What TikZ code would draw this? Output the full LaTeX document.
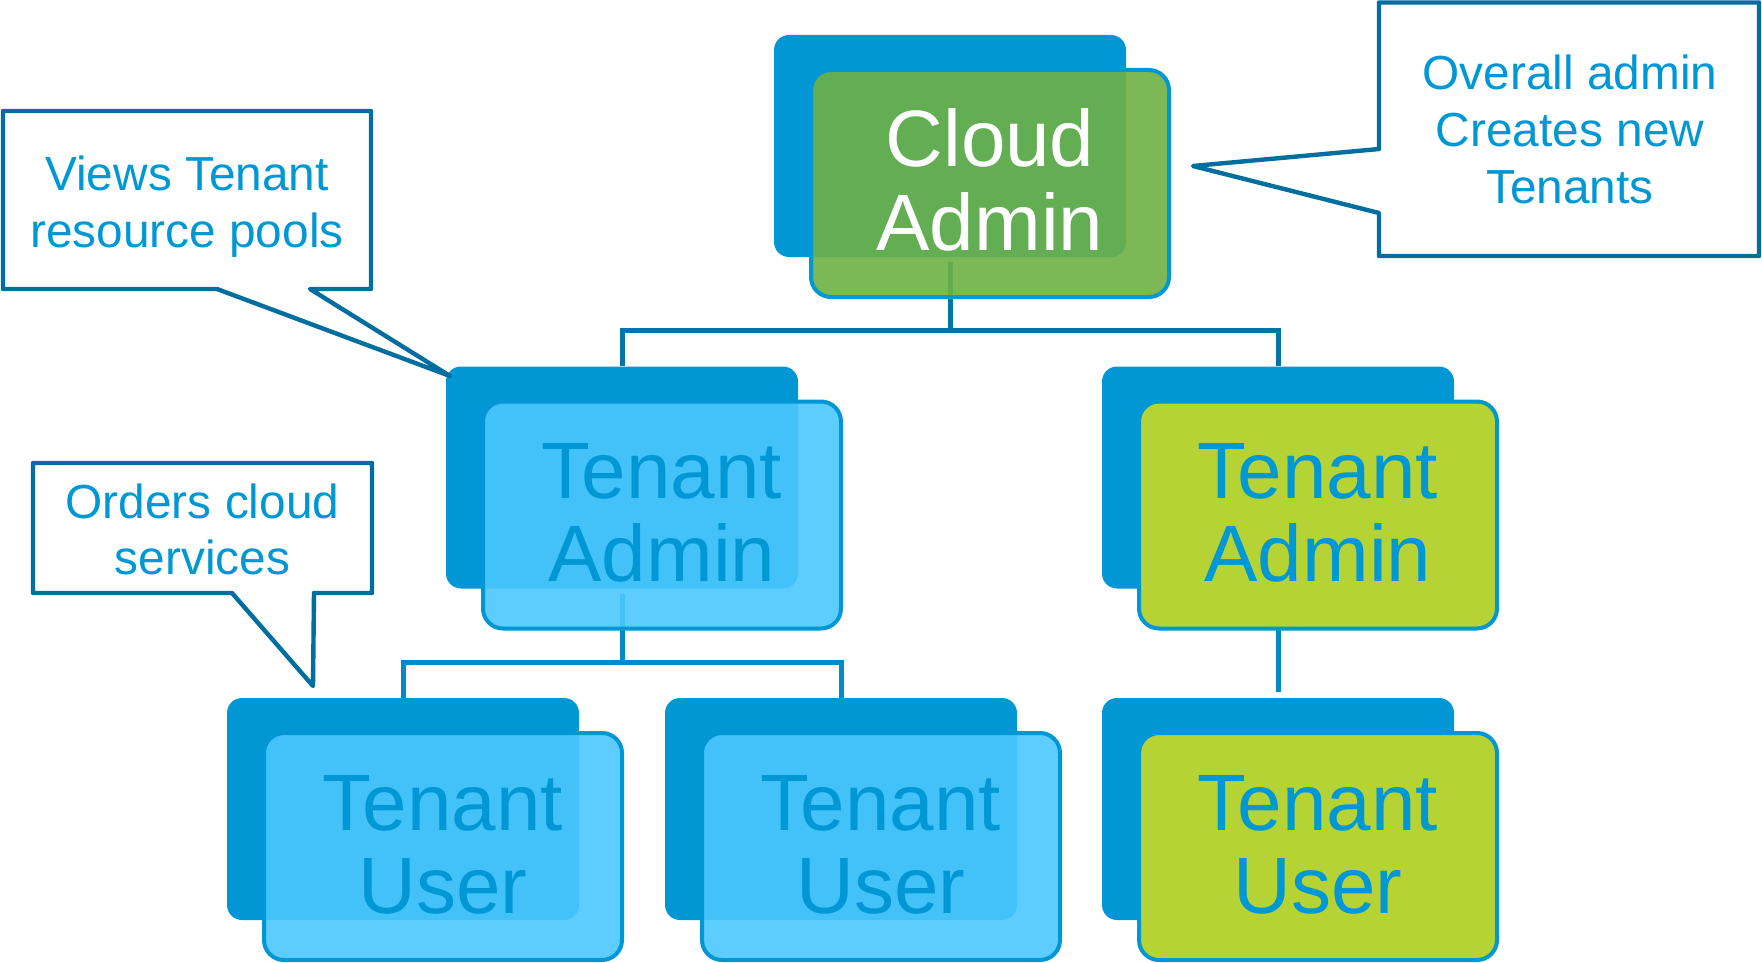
\documentclass[tikz,border=0pt]{standalone}
\usepackage{fontspec}
\setmainfont{Liberation Sans}
\usetikzlibrary{calc}
\definecolor{cBack}{RGB}{0,151,212}
\definecolor{cCloud}{RGB}{110,177,68}
\definecolor{cLight}{RGB}{75,199,255}
\definecolor{cLime}{RGB}{181,211,52}
\definecolor{cText}{RGB}{0,152,212}
\definecolor{cCall}{RGB}{0,110,158}
\definecolor{cConnA}{RGB}{0,118,168}
\definecolor{cConnB}{RGB}{0,138,198}
\tikzset{
  backbox/.style={rectangle, rounded corners=7.5pt, fill=cBack, draw=none,
    minimum width=176pt, minimum height=111pt, inner sep=0pt},
  frontbox/.style={rectangle, rounded corners=10pt, draw=cBack, line width=2pt,
    minimum width=179pt, minimum height=113.5pt, inner sep=0pt},
  cloudfront/.style={frontbox, fill=cCloud, fill opacity=0.9},
  lightfront/.style={frontbox, fill=cLight, fill opacity=0.9},
  limefront/.style={frontbox, fill=cLime},
  btext/.style={anchor=base, inner sep=0pt, text=cText, font=\fontsize{40}{40}\selectfont},
  wtext/.style={btext, text=white},
  ctext/.style={anchor=base, inner sep=0pt, text=cText, font=\fontsize{23.9}{23.9}\selectfont},
  connA/.style={draw=cConnA, line width=2.5pt},
  connB/.style={draw=cConnB, line width=2.5pt},
  callout/.style={draw=cCall, line width=2.2pt, line join=round, fill=white}
}
\begin{document}
\begin{tikzpicture}[x=0.5pt, y=-0.5pt]
\useasboundingbox (0,0) rectangle (1762,963);
% back boxes
\node[backbox] (cab) at (950,146) {};
\node[backbox] (talb) at (622,477.5) {};
\node[backbox] (tarb) at (1278,477.5) {};
\node[backbox] (tu1b) at (403,809) {};
\node[backbox] (tu2b) at (841,809) {};
\node[backbox] (tu3b) at (1278,809) {};
% connectors
\coordinate (bar1) at (950,330.5);
\coordinate (bar2) at (622,662);
\draw[connA] ([yshift=-2.5pt]cab.south) -- (bar1);
\draw[connA] (talb.north) |- (bar1) -| (tarb.north);
\draw[connB] ([yshift=-2.5pt]talb.south) -- (bar2);
\draw[connB] (tu1b.north) |- (bar2) -| (tu2b.north);
\draw[connB, shorten >=3pt] (tarb.south) -- (tu3b.north);
% front boxes
\node[cloudfront] (ca) at (990,183.5) {};
\node[lightfront] (tal) at (662,515) {};
\node[limefront] (tar) at (1318,515) {};
\node[lightfront] (tu1) at (443,846.5) {};
\node[lightfront] (tu2) at (881,846.5) {};
\node[limefront] (tu3) at (1318,846.5) {};
% box texts
\node[wtext] (ca1) at ([yshift=8.25pt]ca.center) {Cloud};
\node[wtext] (ca2) at ([yshift=-33.25pt]ca.center) {Admin};
\node[btext] (tal1) at ([yshift=8.25pt]tal.center) {Tenant};
\node[btext] (tal2) at ([yshift=-33.25pt]tal.center) {Admin};
\node[btext] (tar1) at ([yshift=8.25pt]tar.center) {Tenant};
\node[btext] (tar2) at ([yshift=-33.25pt]tar.center) {Admin};
\node[btext] (tu11) at ([yshift=8.25pt]tu1.center) {Tenant};
\node[btext] (tu12) at ([yshift=-33.25pt]tu1.center) {User};
\node[btext] (tu21) at ([yshift=8.25pt]tu2.center) {Tenant};
\node[btext] (tu22) at ([yshift=-33.25pt]tu2.center) {User};
\node[btext] (tu31) at ([yshift=8.25pt]tu3.center) {Tenant};
\node[btext] (tu32) at ([yshift=-33.25pt]tu3.center) {User};
% callouts
\coordinate (tipV) at (450,376);
\coordinate (tipO) at (313,686);
\coordinate (tipC) at (1193,166);
\draw[callout] (3,111) -- (371,111) -- (371,289) -- (310,289) -- (tipV) -- (217,289) -- (3,289) -- cycle;
\node[ctext] (v1) at (187,191) {Views Tenant};
\node[ctext] (v2) at (187,247) {resource pools};
\draw[callout] (33,463) -- (372,463) -- (372,593) -- (314,593) -- (tipO) -- (232,593) -- (33,593) -- cycle;
\node[ctext] (o1) at (202.5,518) {Orders cloud};
\node[ctext] (o2) at (202.5,574) {services};
\draw[callout] (1379,2.5) -- (1759,2.5) -- (1759,256) -- (1379,256) -- (1379,213) -- (tipC) -- (1379,149) -- cycle;
\node[ctext] (c1) at (1570,90) {Overall admin};
\node[ctext] (c2) at (1570,147) {Creates new};
\node[ctext] (c3) at (1570,204) {Tenants};
\end{tikzpicture}
\end{document}
